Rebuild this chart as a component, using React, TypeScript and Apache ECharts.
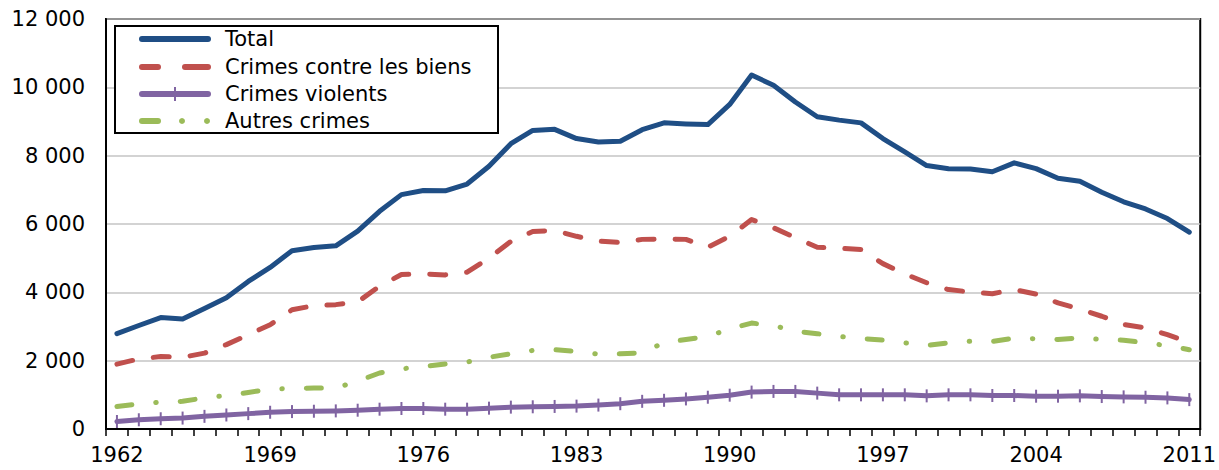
import React, { useEffect, useRef } from "react";
import * as echarts from "echarts";

const years: string[] = [];
for (let y = 1962; y <= 2011; y++) years.push(String(y));

const total = [
  2790, 3030, 3260, 3220, 3530, 3840, 4320, 4730, 5220, 5310, 5360, 5790, 6370, 6860, 6980, 6970, 7170, 7690, 8350, 8740,
  8770, 8500, 8400, 8420, 8760, 8960, 8930, 8910, 9500, 10360, 10060, 9570, 9140, 9040, 8960, 8500, 8110, 7710, 7620, 7610,
  7530, 7790, 7620, 7340, 7250, 6930, 6650, 6440, 6160, 5760,
];
const biens = [
  1900, 2050, 2120, 2100, 2220, 2470, 2760, 3050, 3490, 3610, 3640, 3720, 4180, 4520, 4540, 4510, 4590, 5000, 5490, 5780,
  5810, 5640, 5500, 5460, 5550, 5560, 5550, 5320, 5640, 6130, 5890, 5600, 5320, 5290, 5250, 4840, 4540, 4280, 4080, 4010,
  3960, 4080, 3950, 3690, 3510, 3300, 3060, 2960, 2760, 2540,
];
const violents = [
  220, 270, 300, 320, 370, 410, 450, 490, 510, 520, 530, 550, 580, 600, 600, 580, 580, 610, 640, 650,
  660, 670, 700, 740, 810, 840, 880, 930, 990, 1080, 1100, 1100, 1050, 1000, 1000, 1000, 1000, 970, 1000, 1000,
  980, 980, 960, 960, 970, 950, 940, 930, 910, 860,
];
const autres = [
  660, 730, 790, 810, 910, 980, 1070, 1170, 1180, 1200, 1200, 1400, 1640, 1760, 1830, 1900, 1960, 2100, 2200, 2300,
  2320, 2270, 2190, 2200, 2230, 2530, 2620, 2710, 2930, 3100, 3030, 2860, 2790, 2710, 2650, 2600, 2520, 2450, 2520, 2570,
  2560, 2660, 2640, 2620, 2670, 2620, 2600, 2520, 2440, 2320,
];

const seriesNames = ["Total", "Crimes contre les biens", "Crimes violents", "Autres crimes"];
const colors = ["#1F4E85", "#C0504D", "#8064A2", "#9BBB59"];

const fmt = (v: number) => String(v).replace(/\B(?=(\d{3})+(?!\d))/g, " ");

export default function App() {
  const ref = useRef<HTMLDivElement>(null);
  useEffect(() => {
    if (!ref.current) return;
    const chart = echarts.init(ref.current, undefined, { renderer: "svg" });
    const font = "DejaVu Sans";
    const fs = 21;

    // Legend drawn with graphic elements
    const lx0 = 139;
    const lx1 = 211;
    const rowY = [39, 67, 94, 121];
    const legendEls: any[] = [
      {
        type: "rect",
        shape: { x: 115, y: 26, width: 383, height: 107 },
        style: { fill: "#fff", stroke: "#000", lineWidth: 2 },
        z: 10,
      },
    ];
    const lw = 6;
    legendEls.push({ type: "line", shape: { x1: lx0 + 3, y1: rowY[0], x2: lx1 - 3, y2: rowY[0] }, style: { stroke: colors[0], lineWidth: lw, lineCap: "round" }, z: 11 });
    legendEls.push({ type: "line", shape: { x1: lx0 + 3, y1: rowY[1], x2: 158, y2: rowY[1] }, style: { stroke: colors[1], lineWidth: lw, lineCap: "round" }, z: 11 });
    legendEls.push({ type: "line", shape: { x1: 185, y1: rowY[1], x2: lx1 - 3, y2: rowY[1] }, style: { stroke: colors[1], lineWidth: lw, lineCap: "round" }, z: 11 });
    legendEls.push({ type: "line", shape: { x1: lx0 + 3, y1: rowY[2], x2: lx1 - 3, y2: rowY[2] }, style: { stroke: colors[2], lineWidth: lw, lineCap: "round" }, z: 11 });
    legendEls.push({ type: "line", shape: { x1: 175, y1: rowY[2] - 7, x2: 175, y2: rowY[2] + 7 }, style: { stroke: colors[2], lineWidth: 2 }, z: 11 });
    legendEls.push({ type: "line", shape: { x1: lx0 + 3, y1: rowY[3], x2: 158, y2: rowY[3] }, style: { stroke: colors[3], lineWidth: lw, lineCap: "round" }, z: 11 });
    legendEls.push({ type: "circle", shape: { cx: 182, cy: rowY[3], r: 3 }, style: { fill: colors[3] }, z: 11 });
    legendEls.push({ type: "circle", shape: { cx: 207, cy: rowY[3], r: 3 }, style: { fill: colors[3] }, z: 11 });
    seriesNames.forEach((n, i) => {
      legendEls.push({
        type: "text",
        x: 225,
        y: rowY[i],
        style: { text: n, font: `${fs}px "${font}"`, fill: "#000", textVerticalAlign: "middle", verticalAlign: "middle" },
        z: 11,
      });
    });

    chart.setOption({
      animation: false,
      textStyle: { fontFamily: font },
      grid: { left: 106, right: 18, top: 19, bottom: 41, show: true, borderColor: "#000", borderWidth: 2, containLabel: false },
      graphic: legendEls,
      xAxis: {
        type: "category",
        data: years,
        boundaryGap: true,
        axisLine: { show: true, lineStyle: { color: "#000", width: 2 } },
        axisTick: { show: true, interval: 0, alignWithLabel: false, inside: false, length: 7, lineStyle: { color: "#000", width: 1.5 } },
        axisLabel: { interval: 6, margin: 15, fontFamily: font, fontSize: fs, color: "#000" },
        splitLine: { show: false },
      },
      yAxis: {
        type: "value",
        min: 0,
        max: 12000,
        interval: 2000,
        axisLine: { show: true, lineStyle: { color: "#000", width: 2 } },
        axisTick: { show: false },
        axisLabel: { margin: 21, fontFamily: font, fontSize: fs, color: "#000", formatter: (v: number) => fmt(v) },
        splitLine: { show: true, lineStyle: { color: "#c4c4c4", width: 1.5 } },
      },
      series: [
        {
          name: seriesNames[0],
          type: "line",
          data: total,
          symbol: "none",
          color: colors[0],
          lineStyle: { color: colors[0], width: 5, cap: "round", join: "round" },
          z: 5,
        },
        {
          name: seriesNames[1],
          type: "line",
          data: biens,
          symbol: "none",
          color: colors[1],
          lineStyle: { color: colors[1], width: 5, type: [16, 21], cap: "round", join: "round" },
          z: 4,
        },
        {
          name: seriesNames[2],
          type: "line",
          data: violents,
          symbol: "rect",
          symbolSize: [2, 13],
          showSymbol: true,
          showAllSymbol: true,
          color: colors[2],
          itemStyle: { color: colors[2] },
          lineStyle: { color: colors[2], width: 5, cap: "round", join: "round" },
          z: 3,
        },
        {
          name: seriesNames[3],
          type: "line",
          data: autres,
          symbol: "none",
          color: colors[3],
          lineStyle: { color: colors[3], width: 5, type: [15, 24, 0.5, 24], cap: "round", join: "round" },
          z: 2,
        },
      ],
    });
    return () => chart.dispose();
  }, []);
  return <div ref={ref} style={{ width: 1219, height: 470, position: "absolute", left: 0, top: 0 }} />;
}
